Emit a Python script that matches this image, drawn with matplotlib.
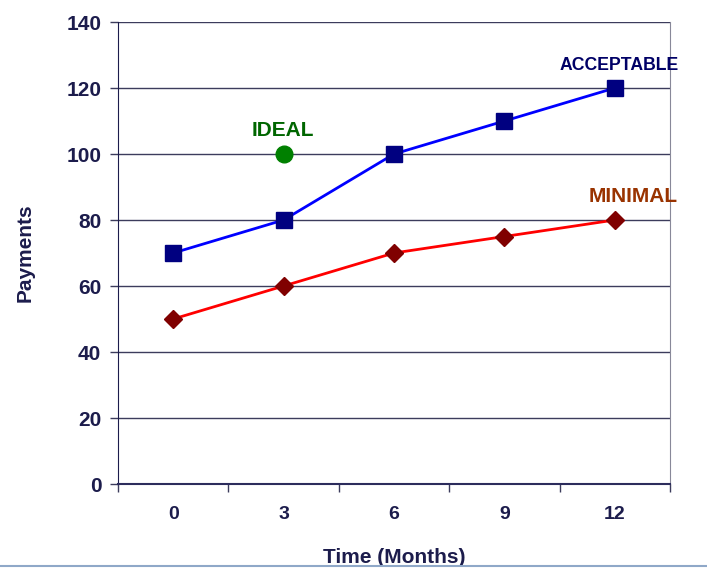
import matplotlib.pyplot as plt
from matplotlib.lines import Line2D

plt.rcParams['font.family'] = ['Liberation Sans', 'DejaVu Sans']

months = ['0', '3', '6', '9', '12']
acceptable = [70, 80, 100, 110, 120]
minimal = [50, 60, 70, 75, 80]
ideal_month = 1   # index of month 3
ideal_value = 100
y_ticks = [0, 20, 40, 60, 80, 100, 120, 140]

text_col = '#1c1c4c'
grid_col = '#3c3c5c'

fig = plt.figure(figsize=(7.07, 5.68), dpi=100)
ax = fig.add_axes([118 / 707, 1 - 484 / 568, (670 - 118) / 707, (484 - 22) / 568])

x = list(range(len(months)))
ax.plot(x, acceptable, color='#0000ff', lw=2, marker='s', ms=12,
        mfc='#000080', mec='#000080', zorder=3)
ax.plot(x, minimal, color='#ff0000', lw=2, marker='D', ms=9,
        mfc='#800000', mec='#800000', zorder=3)
ax.plot([ideal_month], [ideal_value], ls='none', marker='o', ms=12,
        mfc='#008000', mec='#008000', zorder=3)

ax.annotate('ACCEPTABLE', (x[-1], acceptable[-1]), xytext=(4, 22), textcoords='offset pixels',
            ha='center', va='center', fontsize=12.7, fontweight='bold', color='#000066')
ax.annotate('MINIMAL', (x[-1], minimal[-1]), xytext=(18, 23), textcoords='offset pixels',
            ha='center', va='center', fontsize=15, fontweight='bold', color='#993300')
ax.annotate('IDEAL', (ideal_month, ideal_value), xytext=(-1, 23), textcoords='offset pixels',
            ha='center', va='center', fontsize=15, fontweight='bold', color='#006600')

ax.set_xlim(-0.5, len(months) - 0.5)
ax.set_ylim(0, 140)
ax.set_yticks(y_ticks)
ax.set_yticklabels([str(v) for v in y_ticks], fontsize=15, fontweight='bold', color=text_col)
ax.set_xticks(x)
ax.set_xticklabels(months, fontsize=14, fontweight='bold', color=text_col)
ax.set_xticks([i - 0.5 for i in range(len(months) + 1)], minor=True)
ax.tick_params(axis='x', which='major', length=0, pad=16)
ax.tick_params(axis='x', which='minor', length=6, width=1, color=grid_col, direction='out')
ax.tick_params(axis='y', length=6, width=1, color=grid_col, direction='out', pad=6)

ax.grid(axis='y', color=grid_col, lw=1)
ax.set_axisbelow(True)
ax.spines['top'].set_visible(False)
ax.spines['right'].set_color('#888899')
ax.spines['left'].set_color('#1c1c4c')
ax.spines['bottom'].set_color('#2c2c5c')
ax.spines['bottom'].set_linewidth(1.5)

ax.set_ylabel('Payments', fontsize=15, fontweight='bold', color=text_col, labelpad=23)
ax.set_xlabel('Time (Months)', fontsize=15, fontweight='bold', color=text_col, labelpad=18)

fig.add_artist(Line2D([0, 1], [1 - 566 / 568, 1 - 566 / 568], color='#8fa8c8', lw=1.5))

fig.savefig('out.png', dpi=100)
